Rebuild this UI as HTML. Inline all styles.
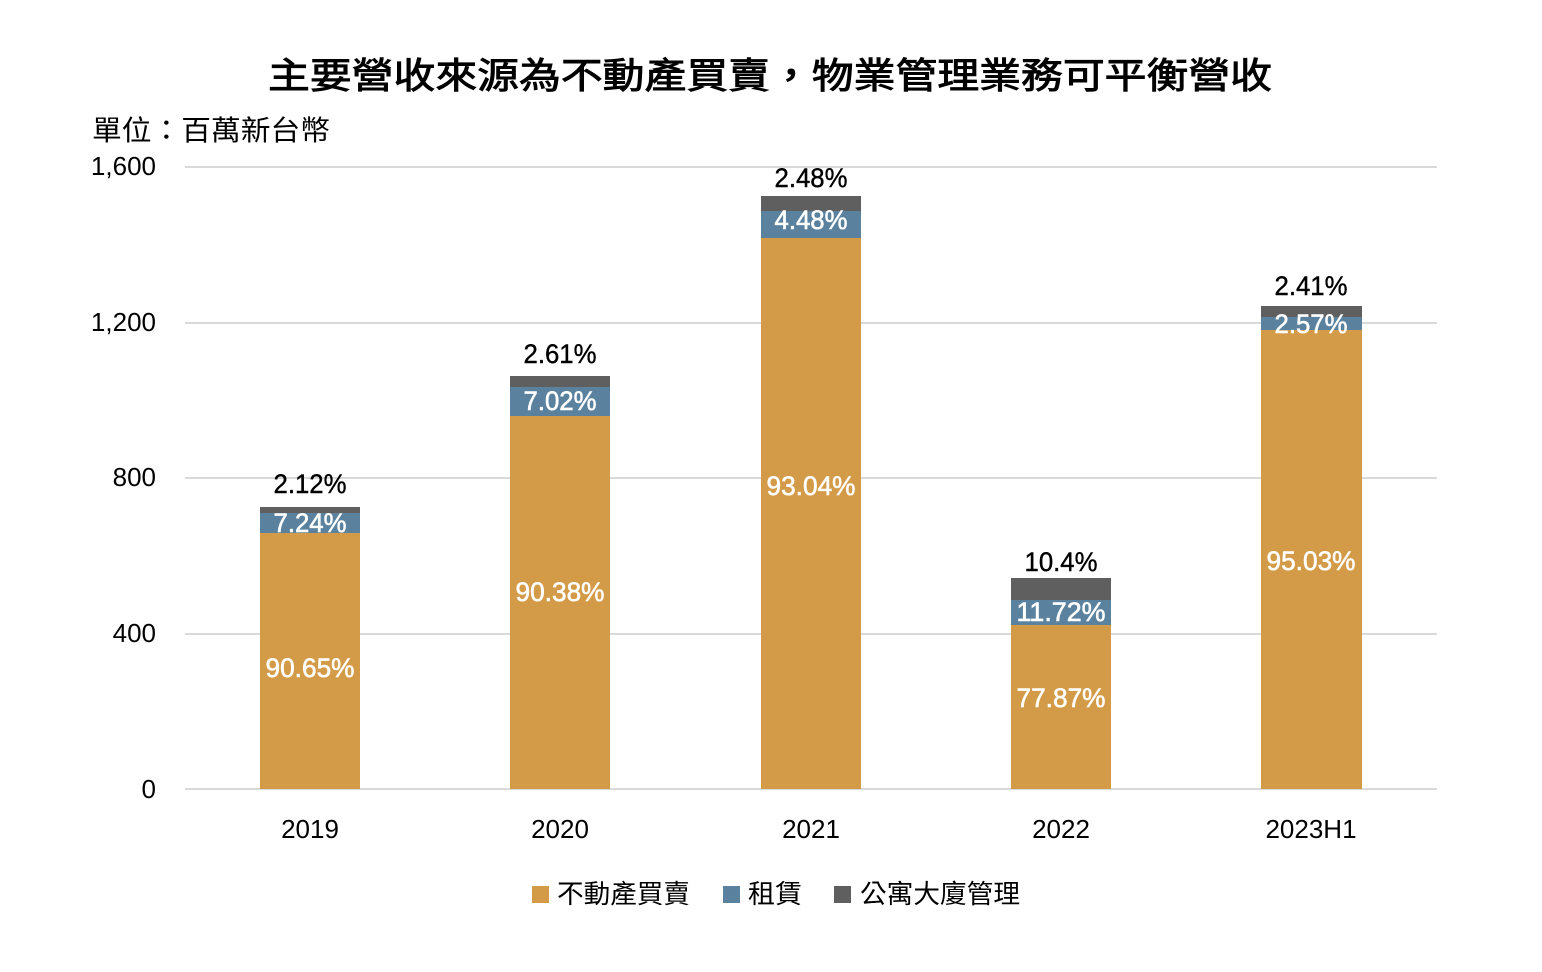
<!DOCTYPE html>
<html><head><meta charset="utf-8"><style>
html,body{margin:0;padding:0;background:#fff;}
svg{display:block;}
text{font-family:"Liberation Sans","Noto Sans CJK TC",sans-serif;}
</style></head><body>
<svg width="1542" height="972" viewBox="0 0 1542 972" xmlns="http://www.w3.org/2000/svg">
<rect width="1542" height="972" fill="#fff"/>
<text x="770" y="88" font-size="36" text-anchor="middle" fill="#000" stroke="#000" stroke-width="0.9" textLength="1004" lengthAdjust="spacingAndGlyphs">主要營收來源為不動產買賣，物業管理業務可平衡營收</text>
<text x="92" y="140" font-size="28" fill="#000" textLength="238" lengthAdjust="spacingAndGlyphs">單位：百萬新台幣</text>
<g stroke="#d9d9d9" stroke-width="2">
<line x1="185" y1="167" x2="1437" y2="167"/>
<line x1="185" y1="323" x2="1437" y2="323"/>
<line x1="185" y1="478" x2="1437" y2="478"/>
<line x1="185" y1="634" x2="1437" y2="634"/>
<line x1="185" y1="789" x2="1437" y2="789"/>
</g>
<g font-size="26" fill="#000" text-anchor="end">
<text x="156" y="175">1,600</text>
<text x="156" y="331">1,200</text>
<text x="156" y="486">800</text>
<text x="156" y="642">400</text>
<text x="156" y="798">0</text>
</g>
<g>
<rect x="260" y="533" width="100" height="256" fill="#D39B48"/>
<rect x="260" y="513" width="100" height="20" fill="#5A829E"/>
<rect x="260" y="507" width="100" height="6" fill="#5F5F5F"/>
<rect x="510" y="416" width="100" height="373" fill="#D39B48"/>
<rect x="510" y="387" width="100" height="29" fill="#5A829E"/>
<rect x="510" y="376" width="100" height="11" fill="#5F5F5F"/>
<rect x="761" y="238" width="100" height="551" fill="#D39B48"/>
<rect x="761" y="211" width="100" height="27" fill="#5A829E"/>
<rect x="761" y="196" width="100" height="15" fill="#5F5F5F"/>
<rect x="1011" y="625" width="100" height="164" fill="#D39B48"/>
<rect x="1011" y="600" width="100" height="25" fill="#5A829E"/>
<rect x="1011" y="578" width="100" height="22" fill="#5F5F5F"/>
<rect x="1261" y="330" width="101" height="459" fill="#D39B48"/>
<rect x="1261" y="317" width="101" height="13" fill="#5A829E"/>
<rect x="1261" y="306" width="101" height="11" fill="#5F5F5F"/>
</g>
<g font-size="27" fill="#000" stroke="#000" stroke-width="0.4" text-anchor="middle">
<text x="310" y="493" textLength="73" lengthAdjust="spacingAndGlyphs">2.12%</text>
<text x="560" y="363" textLength="73" lengthAdjust="spacingAndGlyphs">2.61%</text>
<text x="811" y="187" textLength="73" lengthAdjust="spacingAndGlyphs">2.48%</text>
<text x="1061" y="571" textLength="73" lengthAdjust="spacingAndGlyphs">10.4%</text>
<text x="1311" y="295" textLength="73" lengthAdjust="spacingAndGlyphs">2.41%</text>
</g>
<g font-size="27" fill="#fff" stroke="#fff" stroke-width="0.6" text-anchor="middle">
<text x="310" y="532" textLength="73" lengthAdjust="spacingAndGlyphs">7.24%</text>
<text x="560" y="410" textLength="73" lengthAdjust="spacingAndGlyphs">7.02%</text>
<text x="811" y="229" textLength="73" lengthAdjust="spacingAndGlyphs">4.48%</text>
<text x="1061" y="621" textLength="89" lengthAdjust="spacingAndGlyphs">11.72%</text>
<text x="1311" y="333" textLength="73" lengthAdjust="spacingAndGlyphs">2.57%</text>
<text x="310" y="677" textLength="89" lengthAdjust="spacingAndGlyphs">90.65%</text>
<text x="560" y="601" textLength="89" lengthAdjust="spacingAndGlyphs">90.38%</text>
<text x="811" y="495" textLength="89" lengthAdjust="spacingAndGlyphs">93.04%</text>
<text x="1061" y="707" textLength="89" lengthAdjust="spacingAndGlyphs">77.87%</text>
<text x="1311" y="570" textLength="89" lengthAdjust="spacingAndGlyphs">95.03%</text>
</g>
<g font-size="26" fill="#000" text-anchor="middle">
<text x="310" y="838">2019</text>
<text x="560" y="838">2020</text>
<text x="811" y="838">2021</text>
<text x="1061" y="838">2022</text>
<text x="1311" y="838">2023H1</text>
</g>
<rect x="532" y="886" width="17" height="17" fill="#D39B48"/>
<rect x="723" y="886" width="17" height="17" fill="#5A829E"/>
<rect x="834" y="886" width="17" height="17" fill="#5F5F5F"/>
<g font-size="26" fill="#000">
<text x="557" y="903" textLength="133" lengthAdjust="spacingAndGlyphs">不動產買賣</text>
<text x="748" y="903" textLength="54" lengthAdjust="spacingAndGlyphs">租賃</text>
<text x="860" y="903" textLength="160" lengthAdjust="spacingAndGlyphs">公寓大廈管理</text>
</g>
</svg>
</body></html>
